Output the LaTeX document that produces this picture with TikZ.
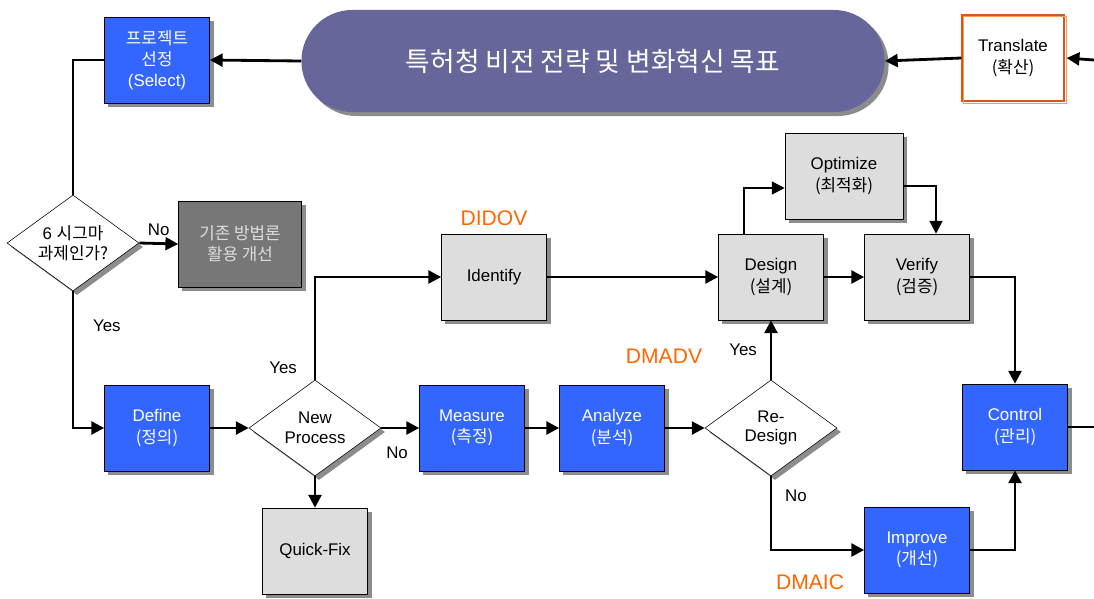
\documentclass[tikz,border=0pt]{standalone}
\usepackage{fontspec}
\setmainfont{Liberation Sans}
\newfontfamily\kr{Noto Sans CJK KR}
\usetikzlibrary{arrows.meta, positioning, shapes.geometric, shadows}
\definecolor{stepblue}{HTML}{3366FF}
\definecolor{stepgray}{HTML}{DDDDDD}
\definecolor{olddark}{HTML}{777777}
\definecolor{goalpurple}{HTML}{66669A}
\definecolor{sixorange}{HTML}{FF6600}
\definecolor{frameorange}{HTML}{D2581E}
\definecolor{framelight}{HTML}{FF9A50}

\begin{document}
\begin{tikzpicture}[
  x=0.025cm, y=-0.025cm,
  shade/.style={drop shadow={shadow xshift=0.1cm, shadow yshift=-0.1cm, fill=black!45, opacity=1}},
  basebox/.style={rectangle, draw=black, thin, minimum width=2.625cm, minimum height=2.15cm, align=center, inner sep=2pt, font=\fontsize{12}{15}\selectfont},
  box/.style={basebox, shade},
  bluebox/.style={box, fill=stepblue, text=white},
  graybox/.style={box, fill=stepgray, text=black},
  decision/.style={diamond, draw=black, thin, fill=white, shade, minimum width=3.3cm, minimum height=2.4cm, aspect=1.375, inner sep=0pt, align=center, font=\fontsize{12}{14}\selectfont},
  arr/.style={-{Triangle[length=3.2mm, width=3.2mm]}, line width=2pt},
  plain/.style={line width=2pt},
  lbl/.style={font=\fontsize{12}{14}\selectfont},
  method/.style={text=sixorange, font=\fontsize{15}{17}\selectfont}
]
\useasboundingbox (0,0) rectangle (1094,599);

% top row
\node[bluebox] (select) at (157,60) {{\kr 프로젝트}\\{\kr 선정}\\(Select)};
\node[rectangle, rounded corners=1.27cm, fill=goalpurple, shade, minimum width=14.575cm, minimum height=2.55cm, text=white, font=\kr\fontsize{19}{21}\selectfont] (goal) at (593,61) {특허청 비전 전략 및 변화혁신 목표};
\node[basebox, fill=white, draw=frameorange, line width=0.9pt, minimum width=2.55cm] (translate) at (1013,58) {Translate\\{\kr (확산)}};
\draw[framelight, line width=0.9pt] ([shift={(0.05cm,-0.05cm)}]translate.south west) rectangle ([shift={(0.05cm,-0.05cm)}]translate.north east);
\coordinate (inright) at (1094,60);

% left column
\node[decision] (sigma) at (73,243) {6 {\kr 시그마}\\{\kr 과제인가?}};
\node[box, fill=olddark, text=stepgray, minimum width=3.075cm] (legacy) at (240,244) {{\kr 기존 방법론}\\{\kr 활용 개선}};
\node[bluebox] (define) at (157,428) {Define\\{\kr (정의)}};
\node[decision] (newproc) at (315,428) {New\\Process};
\node[graybox] (quickfix) at (315,551) {Quick-Fix};

% DMADV / DIDOV rows
\node[bluebox] (measure) at (472,428) {Measure\\{\kr (측정)}};
\node[bluebox] (analyze) at (612,428) {Analyze\\{\kr (분석)}};
\node[decision] (redesign) at (771,428) {Re-\\Design};
\node[graybox] (identify) at (494,277) {Identify};
\node[graybox] (design) at (771,277) {Design\\{\kr (설계)}};
\node[graybox] (verify) at (917,277) {Verify\\{\kr (검증)}};
\node[graybox, minimum width=2.95cm] (optimize) at (844,176) {Optimize\\{\kr (최적화)}};
\node[bluebox] (improve) at (917,550) {Improve\\{\kr (개선)}};
\node[bluebox] (control) at (1015,427) {Control\\{\kr (관리)}};
\coordinate (outright) at (1094,427);

\node[method] (didov) at (494,218) {DIDOV};
\node[method] (dmadv) at (664,356) {DMADV};
\node[method] (dmaic) at (810,582) {DMAIC};

% connectors
\draw[arr] (inright) -- ([xshift=0.05cm]translate.east);
\draw[arr] (translate.west) -- (goal.east);
\draw[arr] (goal.west) -- (select.east);
\draw[plain] (select.west) -| (sigma.north);
\draw[arr] (sigma.east) -- node[lbl, above=1pt]{No} (legacy.west);
\draw[arr] (sigma.south) |- node[lbl, pos=0.125, right=0.35cm]{Yes} (define.west);
\draw[arr] (define) -- (newproc);
\draw[arr] (newproc.north) |- node[lbl, pos=0.06, left=0.3cm]{Yes} (identify.west);
\draw[arr] (newproc.east) -- (measure.west);
\node[lbl, below right=0.35cm and 0cm] at (newproc.east) {No};
\draw[arr] (newproc.south) -- (quickfix.north);
\draw[arr] (measure) -- (analyze);
\draw[arr] (analyze) -- (redesign.west);
\draw[arr] (redesign.north) -- node[lbl, left=0.2cm]{Yes} (design.south);
\draw[arr] (redesign.south) |- node[lbl, pos=0.13, right=0.2cm]{No} (improve.west);
\draw[arr] (improve.east) -| (control.south);
\draw[arr] (identify) -- (design);
\draw[arr] (design) -- (verify);
\draw[arr] (verify.east) -| (control.north);
\draw[arr, line width=1.2pt] ([xshift=-0.675cm]design.north) |- ([yshift=-0.3cm]optimize.west);
\draw[arr, line width=1.2pt] ([yshift=-0.25cm]optimize.east) -| ([xshift=0.475cm]verify.north);
\draw[plain] (control.east) -- (outright);
\end{tikzpicture}
\end{document}
